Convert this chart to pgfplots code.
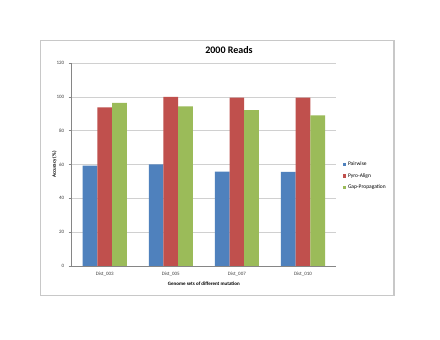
\documentclass[border=0pt]{standalone}
\usepackage{pgfplots}
\pgfplotsset{compat=1.18}
\usepackage{fontspec}
\setmainfont{Carlito}
\definecolor{cblue}{HTML}{4F81BD}
\definecolor{cred}{HTML}{C0504D}
\definecolor{cgreen}{HTML}{9BBB59}
\definecolor{gridc}{HTML}{D0D0D0}
\definecolor{axc}{HTML}{868686}
\definecolor{framec}{HTML}{C8C8C8}
\begin{document}
\begin{tikzpicture}[x=1pt,y=1pt]
\useasboundingbox[fill=white] (0,0) rectangle (440,340);
\draw[framec, line width=1.2pt] (40.7,44.7) rectangle (394,299.7);
\node[font=\fontsize{10}{12}\selectfont\bfseries] at (229,290) {2000 Reads};
\begin{axis}[
  at={(71.7pt,74pt)}, anchor=south west,
  scale only axis, width=264.3pt, height=203pt,
  xmin=-0.5, xmax=3.5, ymin=0, ymax=120,
  ytick={0,20,...,120},
  xtick={0,1,2,3},
  xticklabels={Dist\_003,Dist\_005,Dist\_007,Dist\_010},
  ybar=0pt, bar width=14.7pt,
  axis x line*=bottom, axis y line*=left,
  axis line style={axc, line width=0.6pt},
  every outer x axis line/.append style={-}, every outer y axis line/.append style={-},
  ymajorgrids, grid style={gridc, line width=0.6pt},
  major tick length=3pt,
  ytick style={axc, line width=0.6pt},
  xtick style={draw=none},
  tick align=outside,
  tick label style={font=\fontsize{5}{6}\selectfont, text=black!75},
  yticklabel style={xshift=-1pt},
  /pgf/number format/assume math mode=true,
  xlabel={\bfseries Genome sets of different mutation},
  ylabel={\bfseries Accuracy (\%)},
  label style={font=\fontsize{5}{6}\selectfont},
  xlabel style={yshift=2pt},
  ylabel style={yshift=-7pt},
  legend style={at={(1.025,0.443)}, anchor=west, draw=none, fill=none,
    font=\fontsize{5.5}{6}\selectfont, row sep=2pt, inner sep=0pt},
  legend cell align=left,
  legend image code/.code={\fill[#1] (0pt,-1.6pt) rectangle (3.2pt,1.6pt);},
]
\addplot[fill=cblue, draw=none] coordinates {(0,59.3) (1,60.1) (2,55.8) (3,55.6)};
\addplot[fill=cred, draw=none] coordinates {(0,93.8) (1,99.9) (2,99.5) (3,99.5)};
\addplot[fill=cgreen, draw=none] coordinates {(0,96.5) (1,94.4) (2,92.2) (3,89.1)};
\legend{Pairwise,Pyro-Align,Gap-Propagation}
\end{axis}
\end{tikzpicture}
\end{document}
